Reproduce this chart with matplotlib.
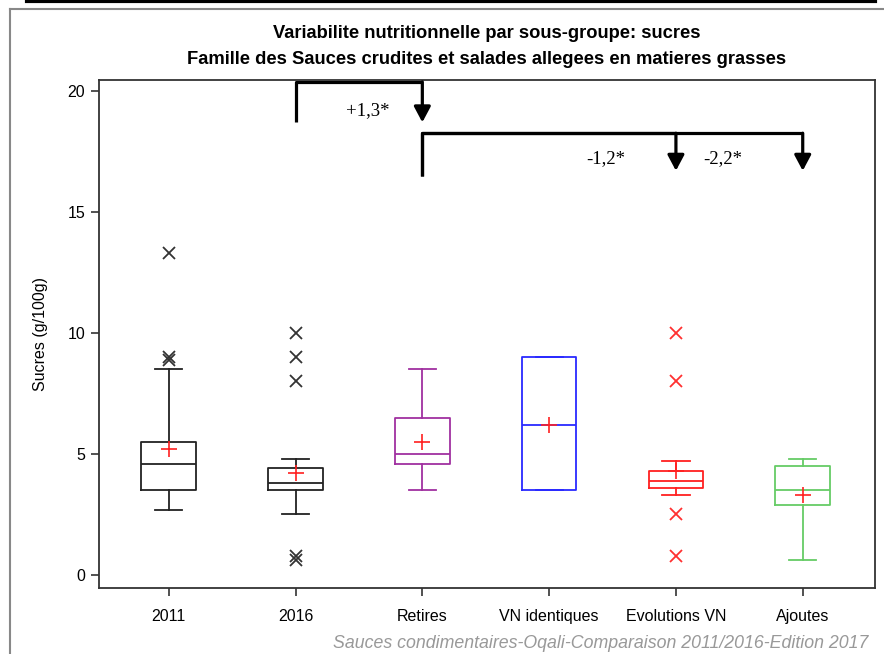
import matplotlib.pyplot as plt
from matplotlib.lines import Line2D

plt.rcParams['font.family'] = ['Liberation Sans', 'DejaVu Sans']

# data
groups = ['2011', '2016', 'Retires', 'VN identiques', 'Evolutions VN', 'Ajoutes']
whislo = [2.7, 2.5, 3.5, 3.5, 3.3, 0.6]
q1 = [3.5, 3.5, 4.6, 3.5, 3.6, 2.9]
med = [4.6, 3.8, 5.0, 6.2, 3.9, 3.5]
q3 = [5.5, 4.4, 6.5, 9.0, 4.3, 4.5]
whishi = [8.5, 4.8, 8.5, 9.0, 4.7, 4.8]
means = [5.2, 4.2, 5.5, 6.2, 4.3, 3.3]
fliers = [[8.9, 9.0, 13.3], [0.6, 0.8, 8.0, 9.0, 10.0], [], [], [0.8, 2.5, 8.0, 10.0], []]
box_colors = ['#222222', '#222222', '#a030a0', '#2a2aff', '#ff2020', '#66cc66']
flier_colors = ['#333333', '#333333', '#a030a0', '#2a2aff', '#ff3030', '#66cc66']

# significant differences: from group, to group, label, label position
comp_from = [2, 3, 3]
comp_to = [3, 5, 6]
comp_label = ['+1,3*', '-1,2*', '-2,2*']
comp_text_x = [2.74, 4.60, 5.52]
comp_text_y = [19.2, 17.2, 17.2]
levels = [20.37, 18.25, 18.25]
starts = [18.7, 16.5, 16.5]
tips = [18.7, 16.7, 16.7]

fig = plt.figure(figsize=(8.84, 6.54), dpi=100)
ax = fig.add_axes([99 / 884, 1 - 588 / 654, 776 / 884, 508 / 654])

for i in range(len(groups)):
    s = dict(whislo=whislo[i], q1=q1[i], med=med[i], q3=q3[i], whishi=whishi[i],
             mean=means[i], fliers=fliers[i], label=groups[i])
    c = box_colors[i]
    ax.bxp([s], positions=[i + 1], widths=0.43, showmeans=True, showfliers=True,
           boxprops=dict(color=c, lw=1.3),
           whiskerprops=dict(color=c, lw=1.3),
           capprops=dict(color=c, lw=1.3),
           medianprops=dict(color=c, lw=1.3),
           meanprops=dict(marker='+', markeredgecolor='#ff2020', markersize=11, markeredgewidth=1.2),
           flierprops=dict(marker='x', markeredgecolor=flier_colors[i], markersize=8, markeredgewidth=1.3))

ax.set_xlim(0.45, 6.57)
ax.set_ylim(-0.54, 20.45)
ax.set_yticks([0, 5, 10, 15, 20])
ax.set_xticks(range(1, 7))
ax.set_xticklabels(groups)
ax.tick_params(direction='out', length=6, width=1.2, color='#333333', labelsize=11.5, pad=9)
ax.tick_params(axis='y', pad=4)
for sp in ax.spines.values():
    sp.set_color('#333333')
    sp.set_linewidth(1.3)
ax.set_ylabel('Sucres (g/100g)', fontsize=11.5, labelpad=14)

# brackets with arrows
for k in range(len(comp_from)):
    x0, x1 = comp_from[k], comp_to[k]
    ax.plot([x0, x0, x1], [starts[k], levels[k], levels[k]], color='black', lw=2.3,
            solid_joinstyle='round', solid_capstyle='butt', clip_on=False)
    ax.annotate('', xy=(x1, tips[k]), xytext=(x1, levels[k]),
                arrowprops=dict(arrowstyle='-|>,head_length=0.47,head_width=0.25', color='black',
                                lw=2.3, mutation_scale=20, shrinkA=0, shrinkB=0,
                                joinstyle='round', capstyle='round'))
    ax.text(comp_text_x[k], comp_text_y[k], comp_label[k],
            ha='right', va='center', fontsize=13.5, family='Liberation Serif')

fig.text(487 / 884, 1 - 34 / 654, 'Variabilite nutritionnelle par sous-groupe: sucres',
         ha='center', va='center', fontsize=13.2, fontweight='bold')
fig.text(487 / 884, 1 - 59 / 654, 'Famille des Sauces crudites et salades allegees en matieres grasses',
         ha='center', va='center', fontsize=13.2, fontweight='bold')
fig.text(868 / 884, 1 - 643 / 654, 'Sauces condimentaires-Oqali-Comparaison 2011/2016-Edition 2017',
         ha='right', va='center', fontsize=12.8, style='italic', color='#999999')

# outer frame and top rule from the slide
fig.add_artist(Line2D([10 / 884, 10 / 884], [0, 1 - 9 / 654], transform=fig.transFigure,
                      color='#888888', lw=1.5))
fig.add_artist(Line2D([10 / 884, 1], [1 - 9 / 654, 1 - 9 / 654], transform=fig.transFigure,
                      color='#888888', lw=1.5))
fig.add_artist(Line2D([27 / 884, 875 / 884], [1 - 1 / 654, 1 - 1 / 654], transform=fig.transFigure,
                      color='black', lw=3))

fig.savefig('out.png', dpi=100)
